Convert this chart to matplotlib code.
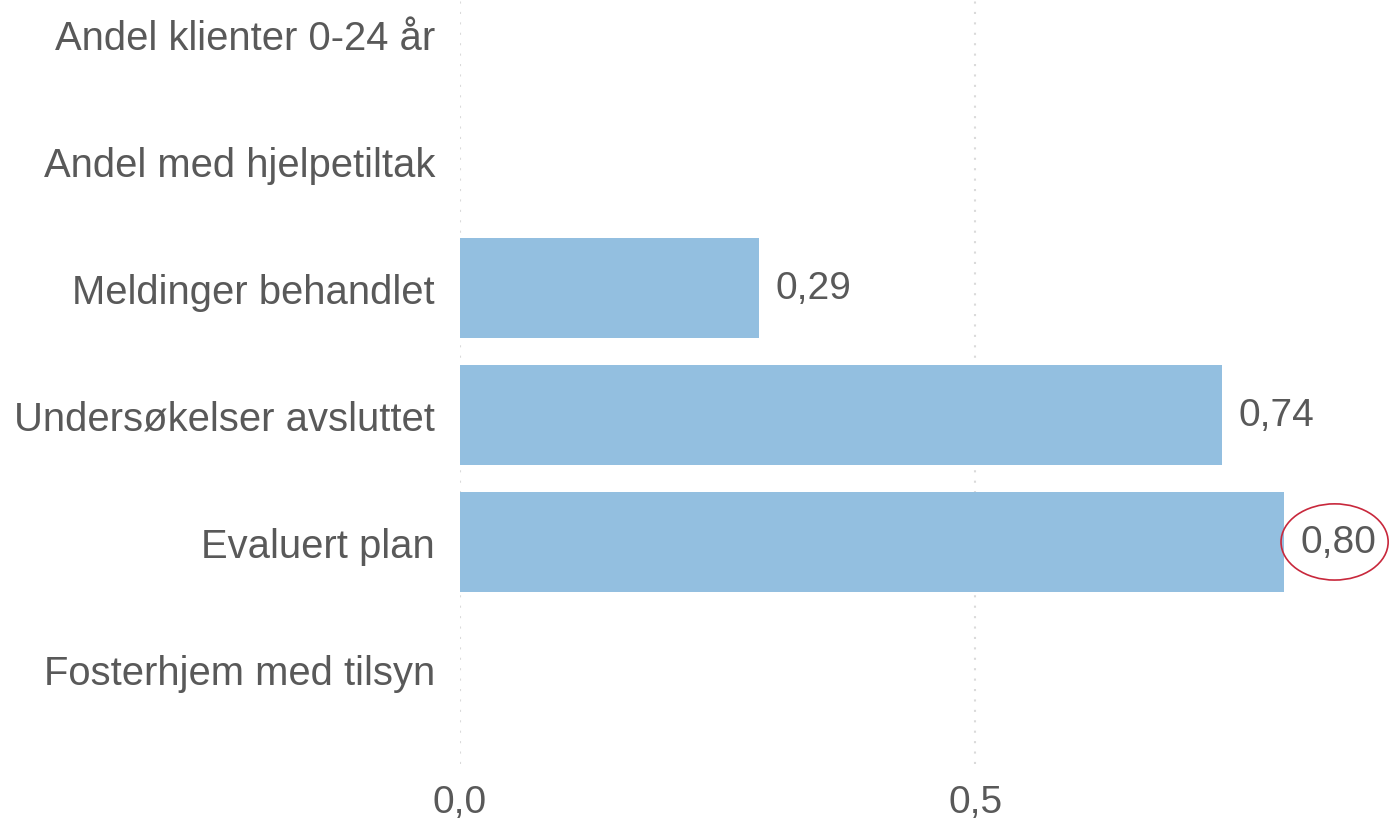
import numpy as np
import matplotlib.pyplot as plt
from matplotlib.patches import Ellipse

plt.rcParams['font.family'] = ['Liberation Sans', 'DejaVu Sans']

categories = ['Andel klienter 0-24 år', 'Andel med hjelpetiltak', 'Meldinger behandlet',
              'Undersøkelser avsluttet', 'Evaluert plan', 'Fosterhjem med tilsyn']
values = [np.nan, np.nan, 0.29, 0.74, 0.80, np.nan]
xticks = [0.0, 0.5]
xticklabels = ['0,0', '0,5']

text_color = '#595959'
bar_color = '#93bfe0'

fig = plt.figure(figsize=(13.92, 8.29), dpi=100)
ax = fig.add_axes([0.3305, 0.077, 0.666, 0.923])

y = np.arange(len(categories))
ax.barh(y, values, height=0.79, color=bar_color, zorder=2)

for yi, v in zip(y, values):
    if not np.isnan(v):
        ax.annotate(f'{v:.2f}'.replace('.', ','), (v, yi), xytext=(12, 0),
                    textcoords='offset points', va='center', ha='left',
                    fontsize=28, color=text_color)

# red ring round the last value
ax.add_patch(Ellipse((0.849, 4.0), 0.104, 0.6, fill=False, edgecolor='#c8283c',
                     linewidth=1.2, clip_on=False, zorder=3))

ax.set_xlim(0, 0.9)
ax.set_ylim(5.75, -0.276)
ax.set_yticks(y)
ax.set_yticklabels(categories, fontsize=28.8, color=text_color)
ax.set_xticks(xticks)
ax.set_xticklabels(xticklabels, fontsize=28, color=text_color)
ax.tick_params(axis='both', length=0)
ax.tick_params(axis='y', pad=18)
ax.tick_params(axis='x', pad=14)

ax.grid(axis='x', linestyle=(0, (1, 4)), color='#dadada', linewidth=1.5, zorder=0)
for s in ax.spines.values():
    s.set_visible(False)

fig.savefig('out.png', dpi=100)
